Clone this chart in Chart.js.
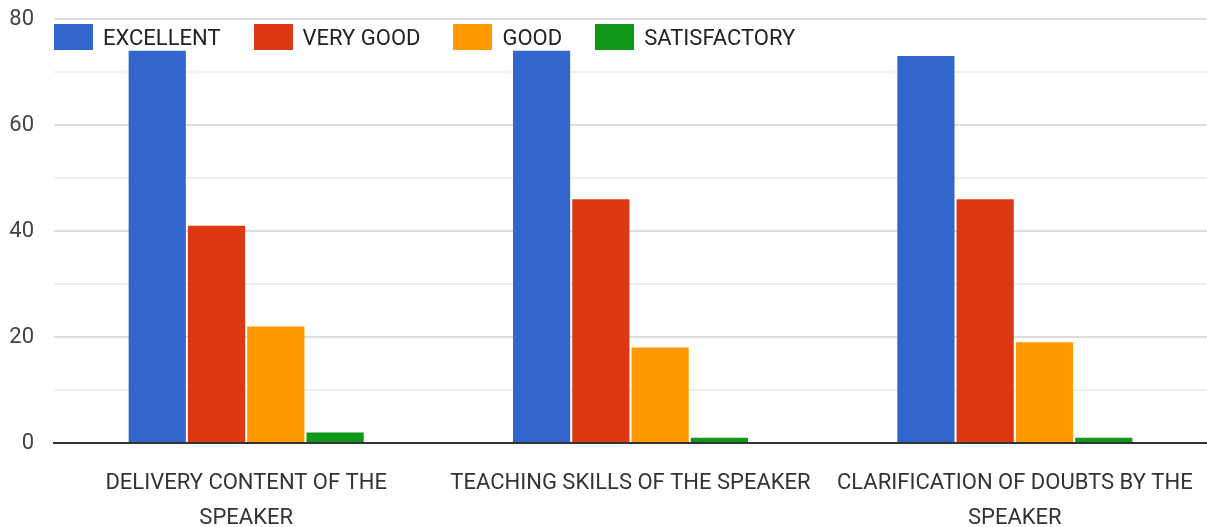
<!DOCTYPE html>
<html>
<head>
<meta charset="utf-8">
<script src="https://cdn.jsdelivr.net/npm/chart.js@4.4.1/dist/chart.umd.min.js"></script>
<style>
  body { margin: 0; background: #fff; }
  #wrap { position: relative; width: 1207px; height: 527px; }
  #legend {
    position: absolute; left: 54px; top: 24px;
    display: flex; align-items: center;
    font: 22px "Roboto", sans-serif; color: #222;
  }
  .item { display: flex; align-items: center; margin-right: 33px; }
  .swatch { width: 39px; height: 26px; margin-right: 10px; }
</style>
</head>
<body>
<div id="wrap">
  <canvas id="chart" width="1207" height="527"></canvas>
  <div id="legend"></div>
</div>
<script>
const FONT = '"Roboto", sans-serif';

// categories (wrapped like the original axis labels)
const categories = [
  ["DELIVERY CONTENT OF THE", "SPEAKER"],
  ["TEACHING SKILLS OF THE SPEAKER"],
  ["CLARIFICATION OF DOUBTS BY THE", "SPEAKER"],
];

const seriesNames = ["EXCELLENT", "VERY GOOD", "GOOD", "SATISFACTORY"];
const seriesColors = ["#3366cc", "#dc3912", "#ff9900", "#109618"];

const excellent = [74, 74, 73];
const veryGood = [41, 46, 46];
const good = [22, 18, 19];
const satisfactory = [2, 1, 1];

const yTicks = [0, 20, 40, 60, 80];

const seriesValues = [excellent, veryGood, good, satisfactory];

// html legend sits on top of the plot area like the original
const legendEl = document.getElementById("legend");
seriesNames.forEach((name, i) => {
  const item = document.createElement("div");
  item.className = "item";
  const sw = document.createElement("span");
  sw.className = "swatch";
  sw.style.background = seriesColors[i];
  const txt = document.createElement("span");
  txt.textContent = name;
  item.appendChild(sw);
  item.appendChild(txt);
  legendEl.appendChild(item);
});

new Chart(document.getElementById("chart").getContext("2d"), {
  type: "bar",
  data: {
    labels: categories,
    datasets: seriesNames.map((name, i) => ({
      label: name,
      data: seriesValues[i],
      backgroundColor: seriesColors[i],
      categoryPercentage: 0.617,
      barPercentage: 0.965,
    })),
  },
  options: {
    responsive: false,
    animation: false,
    layout: { padding: { top: 19, right: 0, left: 0, bottom: 0 } },
    plugins: { legend: { display: false }, tooltip: { enabled: false } },
    scales: {
      x: {
        grid: { display: false },
        border: { color: "#333", width: 2 },
        ticks: {
          padding: 15,
          color: "#333",
          font: { family: FONT, size: 22, lineHeight: 1.6 },
          maxRotation: 0,
          autoSkip: false,
        },
        afterFit(scale) {
          scale.height = 84;
          scale.paddingLeft = 0;
          scale.paddingRight = 0;
        },
      },
      y: {
        min: 0,
        max: 80,
        border: { display: false },
        grid: {
          drawTicks: false,
          color: (ctx) =>
            ctx.tick.value === 0
              ? "#333"
              : ctx.tick.value % 20 === 0
              ? "#dcdcdc"
              : "#efefef",
          lineWidth: 2,
        },
        ticks: {
          stepSize: 10,
          padding: 20,
          color: "#444",
          font: { family: FONT, size: 22 },
          callback: (v) => (yTicks.includes(v) ? v : ""),
        },
        afterFit(scale) {
          scale.width = 54;
          scale.paddingTop = 0;
          scale.paddingBottom = 0;
        },
      },
    },
  },
});
</script>
</body>
</html>
